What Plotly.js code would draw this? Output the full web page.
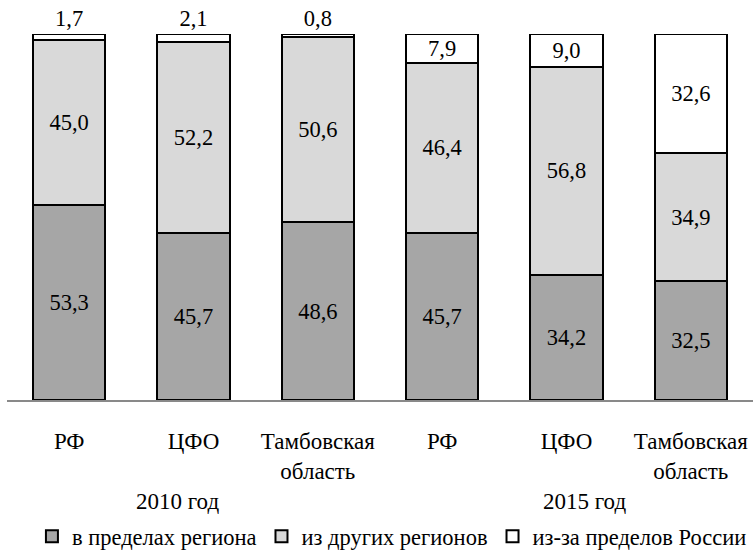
<!DOCTYPE html>
<html>
<head>
<meta charset="utf-8">
<script src="https://cdn.plot.ly/plotly-3.0.1.min.js"></script>
<style>
html,body{margin:0;padding:0;background:#fff;}
#chart{width:753px;height:554px;}
</style>
</head>
<body>
<div id="chart"></div>
<script>
const categories = ["РФ", "ЦФО", "Тамбовская<br>область", "РФ ", "ЦФО ", "Тамбовская<br>область "];
const tickLabels = ["РФ", "ЦФО", "Тамбовская<br>область", "РФ", "ЦФО", "Тамбовская<br>область"];
const groupLabels = ["2010 год", "2015 год"];
const seriesNames = ["в пределах региона", "из других регионов", "из-за пределов России"];
const withinRegion = [53.3, 45.7, 48.6, 45.7, 34.2, 32.5];
const otherRegions = [45.0, 52.2, 50.6, 46.4, 56.8, 34.9];
const abroad = [1.7, 2.1, 0.8, 7.9, 9.0, 32.6];
const abroadTextPos = ["outside", "outside", "outside", "inside", "inside", "inside"];

const FONT = "Liberation Serif";
const labelFont = {family: FONT, size: 22.5, color: "#000"};

function mkTrace(name, vals, color, pos) {
  return {
    type: "bar",
    name: name,
    x: categories,
    y: vals,
    width: 0.58,
    marker: {color: color, line: {color: "#000", width: 2}},
    texttemplate: "%{y:.1f}",
    textposition: pos,
    insidetextanchor: "middle",
    textfont: labelFont,
    insidetextfont: labelFont,
    outsidetextfont: labelFont,
    constraintext: "none",
    cliponaxis: false,
    hoverinfo: "skip"
  };
}

const data = [
  mkTrace(seriesNames[0], withinRegion, "#A6A6A6", "inside"),
  mkTrace(seriesNames[1], otherRegions, "#D9D9D9", "inside"),
  mkTrace(seriesNames[2], abroad, "#FFFFFF", abroadTextPos)
];

const layout = {
  width: 753,
  height: 554,
  barmode: "stack",
  separators: ", ",
  paper_bgcolor: "#fff",
  plot_bgcolor: "#fff",
  margin: {l: 7, r: 0, t: 34, b: 154, autoexpand: false},
  font: {family: FONT, size: 20, color: "#000"},
  xaxis: {
    type: "category",
    range: [-0.5, 5.5],
    tickvals: categories,
    ticktext: tickLabels,
    tickfont: {family: FONT, size: 23, color: "#000"},
    showline: true,
    linecolor: "#898989",
    linewidth: 2,
    ticks: "",
    ticklabelstandoff: 19,
    automargin: false,
    showgrid: false,
    zeroline: false,
    fixedrange: true
  },
  yaxis: {
    range: [0, 100],
    visible: false,
    showgrid: false,
    zeroline: false,
    fixedrange: true
  },
  showlegend: true,
  legend: {
    orientation: "h",
    x: 0.516,
    xanchor: "center",
    y: -0.432,
    yanchor: "bottom",
    font: {family: FONT, size: 22.5, color: "#000"},
    itemwidth: 30,
    traceorder: "normal",
    bgcolor: "rgba(0,0,0,0)"
  },
  annotations: [
    {text: groupLabels[0], xref: "paper", yref: "paper", x: 0.229, y: -0.277, xanchor: "center", yanchor: "middle", showarrow: false, font: {family: FONT, size: 23, color: "#000"}},
    {text: groupLabels[1], xref: "paper", yref: "paper", x: 0.774, y: -0.277, xanchor: "center", yanchor: "middle", showarrow: false, font: {family: FONT, size: 23, color: "#000"}}
  ]
};

Plotly.newPlot("chart", data, layout, {displayModeBar: false, staticPlot: true});
</script>
</body>
</html>
